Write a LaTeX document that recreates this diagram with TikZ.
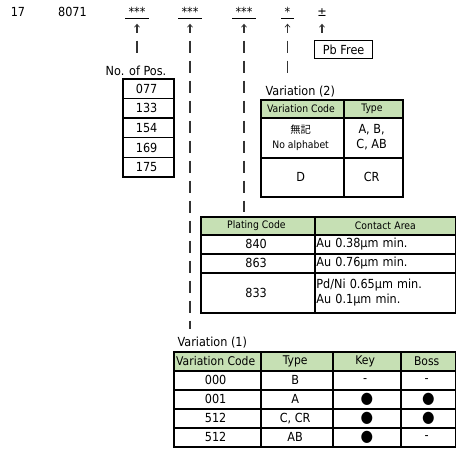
\documentclass[tikz,border=0pt]{standalone}
\usepackage{fontspec}
\setmainfont{DejaVu Sans}[FakeStretch=0.9]
\newfontfamily\jpfont{Noto Sans CJK JP}
\usetikzlibrary{matrix,arrows.meta}
\definecolor{hdrgreen}{HTML}{C6E0B4}
\newcommand{\txtmain}{\fontsize{12.5}{14.5}\selectfont}
\newcommand{\txtsmall}{\fontsize{10.3}{12}\selectfont}
\newcommand{\keydot}{{\fontsize{16}{16}\selectfont ●}}
\newcommand{\twolinec}[2]{\begin{tabular}{@{}c@{}}#1\\#2\end{tabular}}
\newcommand{\twolinel}[2]{\begin{tabular}{@{}l@{}}#1\\#2\end{tabular}}
\tikzset{
  code/.style={anchor=base, inner xsep=3pt, inner ysep=1.5pt,
    append after command={(\tikzlastnode.south west) edge[line width=1.3pt] (\tikzlastnode.south east)}},
  conn/.style={black!80, line width=1.1pt, dash pattern=on 12pt off 8pt, dash phase=4pt,
    {Straight Barb[length=3pt,width=5pt,line width=0.7pt]}-, shorten <=5.5pt, shorten >=4pt},
  tab/.style={matrix of nodes, inner sep=0pt, row sep=-1.4pt, column sep=-1.4pt, matrix anchor=north west,
    nodes={draw, line width=1.4pt, anchor=center, inner xsep=1.5pt, inner ysep=0pt, align=center}}
}

\begin{document}
\begin{tikzpicture}[x=1pt, y=-1pt, font=\txtmain]
  \useasboundingbox (0,0) rectangle (456,451);
  \node[anchor=base] (pfx) at (18,16.5) {17};
  \node[anchor=base] (series) at (72.5,16.5) {8071};
  \foreach \nm/\xx/\tx in {cpos/137/***, cvarone/190/***, cplate/244/***, cvartwo/287.5/*}
    \node[code] (\nm) at (\xx,16.5) {\tx};
  \node[anchor=base, inner ysep=1.5pt] (cpb) at (322,16.5) {±};

  \node[anchor=base] (poslbl) at (136,75) {No. of Pos.};
  \matrix (postab) [tab, column 1/.style={nodes={minimum width=51pt, minimum height=19.6pt}}] at (122,78) {
    077 \\ 133 \\ 154 \\ 169 \\ 175 \\
  };

  \node[draw, line width=1.3pt, minimum width=58pt, minimum height=18pt, anchor=north west, inner sep=2pt] (pbfree) at (314,40) {Pb Free};

  \node[anchor=base west] (vartwolbl) at (262,95) {Variation (2)};
  \matrix (vartwo) [tab, column 1/.style={nodes={minimum width=83pt}}, column 2/.style={nodes={minimum width=59pt}},
    row 1/.style={nodes={fill=hdrgreen, minimum height=18pt, font=\txtsmall}},
    row 2/.style={nodes={minimum height=40pt}}, row 3/.style={nodes={minimum height=39pt}}] at (260,99) {
    Variation Code & Type \\
    \twolinec{\jpfont\txtsmall 無記}{\txtsmall No alphabet} & \twolinec{A, B,}{C, AB} \\
    D & CR \\
  };

  \matrix (plating) [tab, column 1/.style={nodes={minimum width=114pt}}, column 2/.style={nodes={text width=138pt, align=left}},
    row 1/.style={nodes={fill=hdrgreen, minimum height=18pt, font=\txtsmall}},
    row 2/.style={nodes={minimum height=19pt}}, row 3/.style={nodes={minimum height=19pt}},
    row 4/.style={nodes={minimum height=40pt}}] at (200,216) {
    Plating Code & |[align=center]| Contact Area \\
    840 & Au 0.38µm min. \\
    863 & Au 0.76µm min. \\
    833 & \twolinel{Pd/Ni 0.65µm min.}{Au 0.1µm min.} \\
  };

  \node[anchor=base west] (varonelbl) at (174,346) {Variation (1)};
  \matrix (varone) [tab, nodes={minimum height=19pt},
    column 1/.style={nodes={minimum width=87pt}}, column 2/.style={nodes={minimum width=72pt}},
    column 3/.style={nodes={minimum width=68pt}}, column 4/.style={nodes={minimum width=55pt}},
    row 1/.style={nodes={fill=hdrgreen, font=\fontsize{12}{14}\selectfont}}] at (173,351) {
    Variation Code & Type & Key & Boss \\
    000 & B & - & - \\
    001 & A & \keydot & \keydot \\
    512 & C, CR & \keydot & \keydot \\
    512 & AB & \keydot & - \\
  };

  \draw[conn] (cpos.south) -- (cpos.south |- poslbl.north);
  \draw[conn] (cvarone.south) -- (cvarone.south |- varonelbl.north);
  \draw[conn] (cplate.south) -- (cplate.south |- plating.north);
  \draw[conn] (cvartwo.south) -- (cvartwo.south |- vartwolbl.north);
  \draw[conn] (cpb.south) -- (cpb.south |- pbfree.north);
\end{tikzpicture}
\end{document}
